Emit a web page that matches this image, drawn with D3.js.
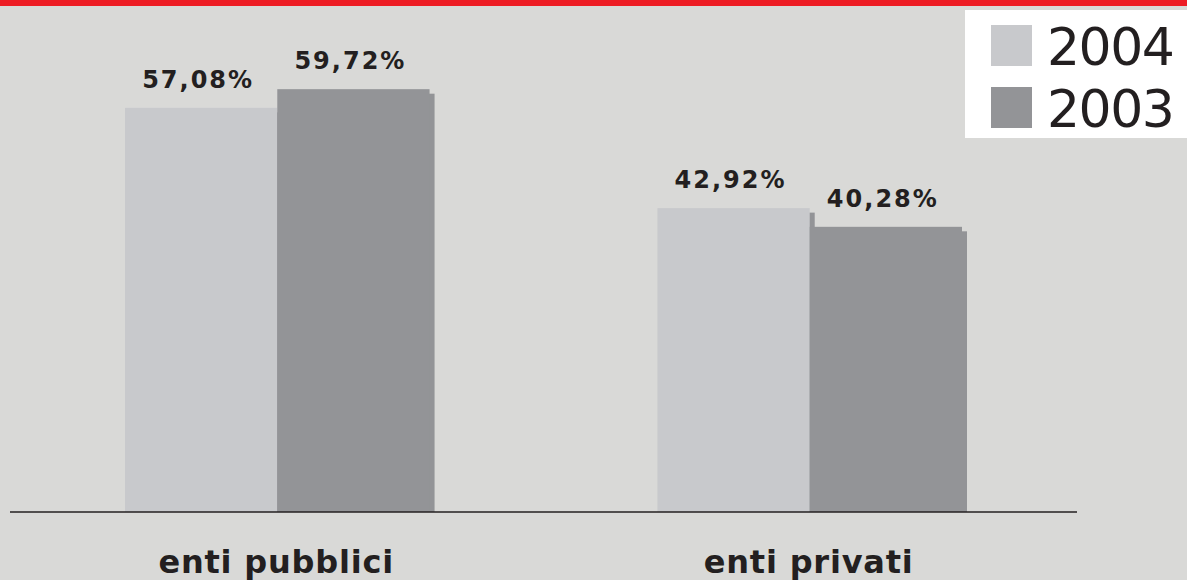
<!DOCTYPE html>
<html>
<head>
<meta charset="utf-8">
<script src="https://cdn.jsdelivr.net/npm/d3@7"></script>
<style>
  body { margin: 0; background: #d9d9d7; }
  svg { display: block; font-family: "DejaVu Sans", Verdana, sans-serif; }
</style>
</head>
<body>
<svg id="chart"></svg>
<script>
// data
var categories = ["enti pubblici", "enti privati"];
var seriesNames = ["2004", "2003"];
var values2004 = [57.08, 42.92];
var values2003 = [59.72, 40.28];
var colors = {"2004": "#c8c9cc", "2003": "#939497"};

var width = 1187, height = 580;
var baseline = 512;

var svg = d3.select("#chart")
    .attr("width", width)
    .attr("height", height);

// background + red top strip
svg.append("rect").attr("width", width).attr("height", height).attr("fill", "#d9d9d7");
svg.append("rect").attr("width", width).attr("height", 6).attr("fill", "#ed1c24");

// scales
var x0 = d3.scaleBand()
    .domain(categories)
    .range([10, 1077])
    .paddingInner(0.428)
    .paddingOuter(0.216);

var x1 = d3.scaleBand()
    .domain(seriesNames)
    .range([0, x0.bandwidth()]);

var y = d3.scaleLinear()
    .domain([0, 60])
    .range([baseline, baseline - 60 * 7.08]);

var rows = [];
categories.forEach(function (c, i) {
    rows.push({cat: c, s: "2004", v: values2004[i]});
    rows.push({cat: c, s: "2003", v: values2003[i]});
});

// shadows (offset copy of every bar)
svg.append("g").selectAll("rect").data(rows).enter()
    .append("rect")
    .attr("x", function (d) {return x0(d.cat) + x1(d.s) + 5;})
    .attr("y", function (d) {return y(d.v) + 4.5;})
    .attr("width", x1.bandwidth())
    .attr("height", function (d) {return baseline - y(d.v) - 4.5;})
    .attr("fill", colors["2003"]);

// bars
svg.append("g").selectAll("rect").data(rows).enter()
    .append("rect")
    .attr("x", function (d) {return x0(d.cat) + x1(d.s);})
    .attr("y", function (d) {return y(d.v);})
    .attr("width", x1.bandwidth())
    .attr("height", function (d) {return baseline - y(d.v);})
    .attr("fill", function (d) {return colors[d.s];});

// value labels (x nudged back by half the letter spacing)
svg.append("g").selectAll("text").data(rows).enter()
    .append("text")
    .attr("x", function (d) {return x0(d.cat) + x1(d.s) + x1.bandwidth() / 2 - 3;})
    .attr("y", function (d) {return y(d.v) - 20;})
    .attr("text-anchor", "middle")
    .attr("font-size", 24)
    .attr("letter-spacing", 2)
    .attr("font-weight", "bold")
    .attr("fill", "#231f20")
    .text(function (d) {return d3.format(".2f")(d.v).replace(".", ",") + "%";});

// baseline
svg.append("line")
    .attr("x1", 10).attr("x2", 1077)
    .attr("y1", baseline).attr("y2", baseline)
    .attr("stroke", "#231f20")
    .attr("stroke-width", 1.3);

// category labels
svg.append("g").selectAll("text").data(categories).enter()
    .append("text")
    .attr("x", function (d) {return x0(d) + x0.bandwidth() / 2 - 1;})
    .attr("y", 573)
    .attr("text-anchor", "middle")
    .attr("font-size", 32)
    .attr("letter-spacing", 0.8)
    .attr("font-weight", "bold")
    .attr("fill", "#231f20")
    .text(function (d) {return d;});

// legend
var legend = svg.append("g");
legend.append("rect")
    .attr("x", 965).attr("y", 10)
    .attr("width", 222).attr("height", 128)
    .attr("fill", "#ffffff");

var item = legend.selectAll("g.item").data(seriesNames).enter()
    .append("g")
    .attr("class", "item")
    .attr("transform", function (d, i) {return "translate(991," + (25 + i * 62) + ")";});

item.append("rect")
    .attr("width", 41).attr("height", 41)
    .attr("fill", function (d) {return colors[d];});

item.append("text")
    .attr("x", 56)
    .attr("y", 40)
    .attr("font-size", 52)
    .attr("letter-spacing", -1.5)
    .attr("fill", "#231f20")
    .text(function (d) {return d;});
</script>
</body>
</html>
